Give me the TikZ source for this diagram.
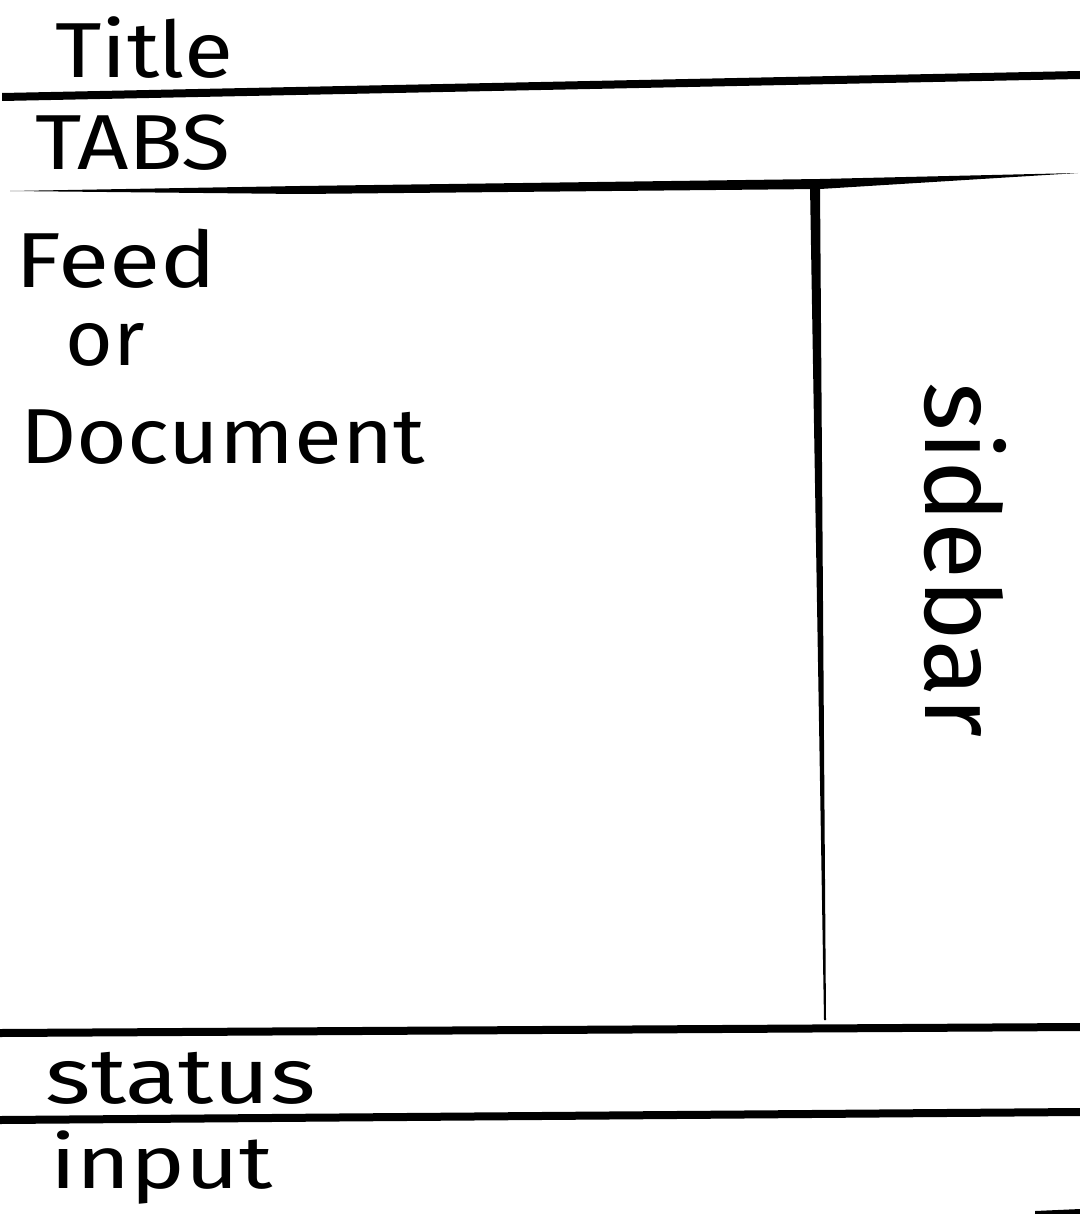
\documentclass[tikz,border=0pt]{standalone}
\usepackage{fontspec}
\setmainfont{Fira Sans}
\begin{document}
\begin{tikzpicture}[x=0.5pt,y=-0.5pt,
  lbl/.style={anchor=base west,inner sep=0pt,font=\fontsize{39}{45}\selectfont},
  ink/.style={fill=black}]
\useasboundingbox[fill=white] (0,0) rectangle (1080,1214);
% lines
\fill[ink] (2,93) -- (1080,71) -- (1080,79) -- (2,101) -- cycle;
\fill[ink] (10,191) -- (300,186) -- (820,179) -- (1078,173) -- (820,189) -- (300,194) -- cycle;
\fill[ink] (810,186) -- (820,186) -- (826,1020) -- (824,1020) -- cycle;
\fill[ink] (0,1029) -- (1080,1023) -- (1080,1031) -- (0,1037) -- cycle;
\fill[ink] (0,1116) -- (1080,1108) -- (1080,1116) -- (0,1124) -- cycle;
\fill[ink] (1035,1211) -- (1080,1209) -- (1080,1214) -- (1035,1214) -- cycle;
% texts
\node[lbl,xscale=1.15,transform shape] (title) at (55,78) {Title};
\node[lbl,xscale=1.15,transform shape] (tabs) at (35,170) {TABS};
\node[lbl,xscale=1.2,transform shape] (feed) at (15,287) {Feed};
\node[lbl,xscale=1.05,transform shape] (or) at (65,365) {or};
\node[lbl,xscale=1.12,transform shape] (doc) at (20,463) {Document};
\node[lbl,xscale=1.25,transform shape] (status) at (45,1103) {status};
\node[lbl,xscale=1.25,transform shape,font=\fontsize{37}{44}\selectfont] (input) at (50,1188) {input};
\node[inner sep=0pt,rotate=-90,font=\fontsize{52}{60}\selectfont] (sidebar) at (965,560) {sidebar};
\end{tikzpicture}
\end{document}
